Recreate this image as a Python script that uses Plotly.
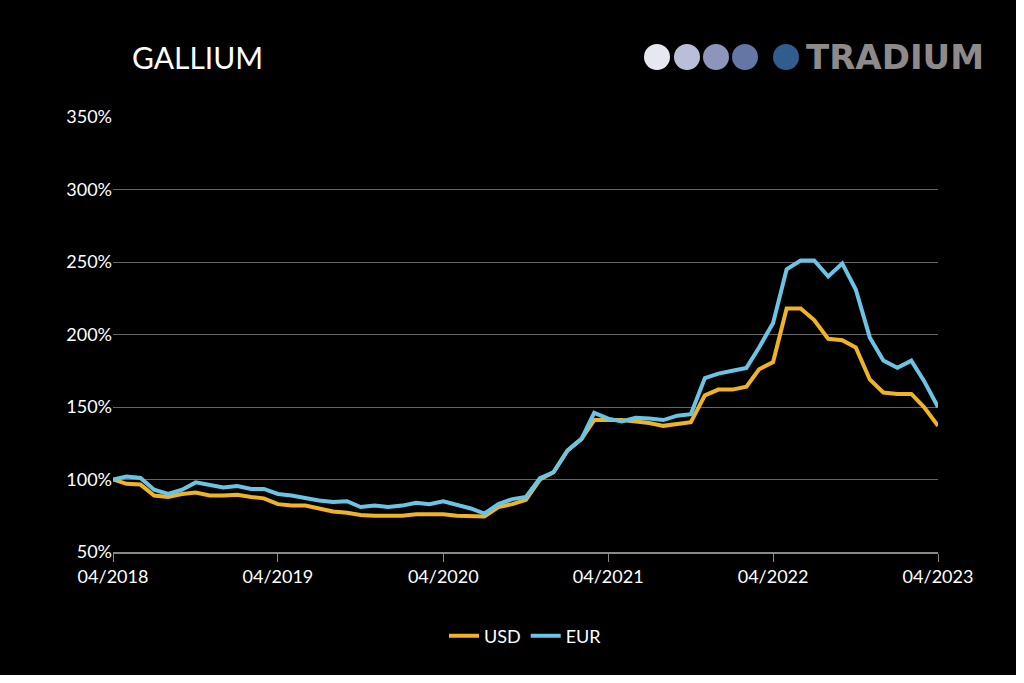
import pandas as pd
import plotly.graph_objects as go

months = pd.date_range("2018-04-01", "2023-04-01", freq="MS")

usd = [100, 97, 96.5, 89, 88, 90, 91, 89, 89, 89.5, 88, 87,
       83, 82, 82, 80, 78, 77, 75.5, 75, 75, 75, 76, 76,
       76, 75, 74.5, 74.5, 81, 83, 86, 100, 105, 120, 128, 141,
       141, 141, 140, 139, 137, 138, 139.5, 158, 162, 162, 164, 176,
       181, 218, 218, 210, 197, 196, 191, 169, 160, 159, 159, 150, 137]

eur = [100, 102, 101, 93, 90, 93, 98, 96, 94.5, 95.5, 93.5, 93.5,
       90, 89, 87, 85.5, 84.5, 85, 81, 82, 81, 82, 84, 83,
       85, 82.5, 80, 76.5, 83, 86.5, 88, 101, 105, 120, 128, 146,
       142, 140, 142.5, 142, 141, 144, 145, 170, 173, 175, 177, 191,
       208, 245, 251, 251, 240, 249, 231, 198, 182, 177, 182, 168, 150]

tick_dates = pd.date_range("2018-04-01", "2023-04-01", freq="12MS")
y_ticks = [50, 100, 150, 200, 250, 300, 350]
logo_colors = ["#e6e8f0", "#babed8", "#8d95bb", "#6476a4", "#305c8e"]

# plot area in pixels (figure 1016x675 drawn at page origin)
L, R, T, B = 113, 938, 117, 552
PW, PH = R - L, B - T


def px(x):
    return (x - L) / PW


def py(y):
    return (B - y) / PH


fig = go.Figure()
fig.add_trace(go.Scatter(x=months, y=usd, name="USD", mode="lines",
                         line=dict(color="#f0b323", width=4)))
fig.add_trace(go.Scatter(x=months, y=eur, name="EUR", mode="lines",
                         line=dict(color="#6ac4e6", width=4)))

fig.update_layout(
    width=1016, height=675,
    paper_bgcolor="black", plot_bgcolor="black",
    margin=dict(l=L, r=1016 - R, t=T, b=675 - B),
    font=dict(family="Lato", color="white", size=18),
    legend=dict(orientation="h", x=0.5, xanchor="center", y=py(636), yanchor="middle",
                font=dict(size=18, color="white")),
    annotations=[
        dict(text="GALLIUM", x=px(130), y=py(57), xref="paper", yref="paper",
             xanchor="left", yanchor="middle", showarrow=False,
             font=dict(size=30, color="white", family="Lato")),
        dict(text="<b>TRADIUM</b>", x=px(804), y=py(57), xref="paper", yref="paper",
             xanchor="left", yanchor="middle", showarrow=False,
             font=dict(size=34, color="#8f8a8a", family="DejaVu Sans")),
    ],
)

cx = [657, 687, 716, 745, 786]
for c, col in zip(cx, logo_colors):
    fig.add_shape(type="circle", xref="paper", yref="paper",
                  x0=px(c - 13), x1=px(c + 13), y0=py(70), y1=py(44),
                  fillcolor=col, line_width=0)

fig.update_xaxes(
    tickvals=tick_dates, ticktext=[d.strftime("%m/%Y") for d in tick_dates],
    range=[months[0], months[-1]], showgrid=False,
    showline=True, linecolor="#888888", linewidth=1.5,
    ticks="outside", ticklen=8, tickcolor="#888888",
    tickfont=dict(size=18, color="white"),
)
fig.update_yaxes(
    range=[50, 350], tickvals=y_ticks, ticktext=[f"{v}%" for v in y_ticks],
    showgrid=True, gridcolor="#666666", gridwidth=1,
    zeroline=False, tickfont=dict(size=18, color="white"),
)

fig.write_html("out.html", config={"displayModeBar": False},
               post_script="document.body.style.margin='0';")
